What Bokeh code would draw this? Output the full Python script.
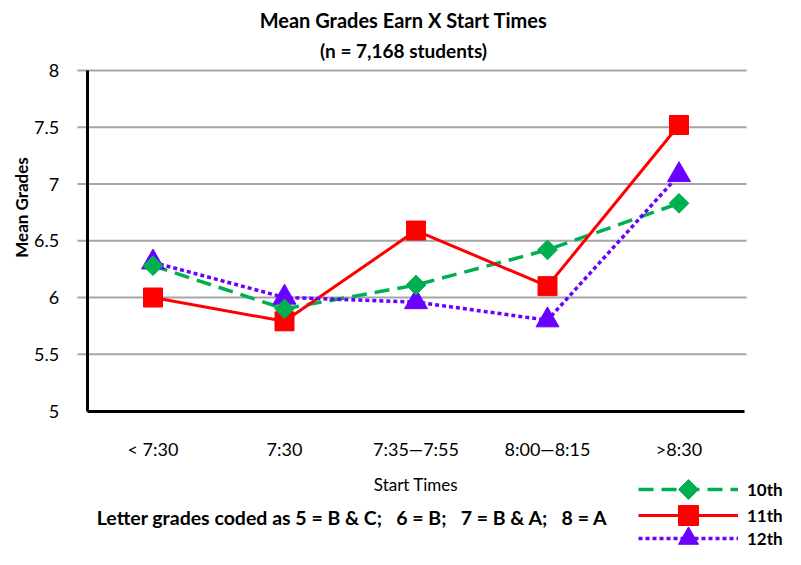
import math
from bokeh.plotting import figure
from bokeh.models import (Range1d, FixedTicker, NumeralTickFormatter,
                          Label, Legend, LegendItem)
from bokeh.embed import file_html
from bokeh.resources import INLINE

# ---- data ----
start_times = ["< 7:30", "7:30", "7:35\u20147:55", "8:00\u20148:15", ">8:30"]
grade10 = [6.28, 5.90, 6.11, 6.42, 6.83]
grade11 = [6.00, 5.79, 6.59, 6.10, 7.52]
grade12 = [6.31, 6.00, 5.96, 5.80, 7.08]
series_names = ["10th", "11th", "12th"]
y_ticks = [5, 5.5, 6, 6.5, 7, 7.5, 8]
title_lines = ["Mean Grades Earn X Start Times", "(n = 7,168 students)"]
x_title = "Start Times"
y_title = "Mean Grades"
note = "Letter grades coded as 5 = B & C;\u00a0\u00a0 6 = B;\u00a0\u00a0 7 = B & A;\u00a0\u00a0 8 = A"

x_idx = list(range(len(start_times)))

# ---- layout geometry (pixels on the canvas) ----
W, H = 785, 549
X0, DX = 152.5, 131.5          # pixel of first category, pixels per category
Y_TOP_VAL, Y_TOP_PX = 8.0, 70.0
PPU = 113.5                    # pixels per grade unit


def px2x(px):
    return (px - X0) / DX


def py2y(py):
    return Y_TOP_VAL - (py - Y_TOP_PX) / PPU


FONT = "Lato"
GREEN, RED, PURPLE = "#00b050", "#ff0000", "#6a00ff"
GRID = "#a6a6a6"

p = figure(width=W, height=H,
           x_range=Range1d(px2x(0), px2x(W)), y_range=Range1d(py2y(H), py2y(0)),
           output_backend="svg", toolbar_location=None,
           min_border_left=0, min_border_right=0,
           min_border_top=0, min_border_bottom=0)
p.title.visible = False
p.outline_line_color = None
p.background_fill_color = "white"
p.border_fill_color = "white"
p.xgrid.visible = False
p.ygrid.visible = False

# horizontal grid lines (gray), from the y tick values
grid_y = [t for t in y_ticks if t > min(y_ticks)]
p.segment(x0=[px2x(77)] * len(grid_y), y0=grid_y,
          x1=[px2x(746)] * len(grid_y), y1=grid_y,
          line_color=GRID, line_width=2)

# y axis
ya = p.yaxis[0]
ya.fixed_location = -0.5
ya.bounds = (min(y_ticks), max(y_ticks))
ya.ticker = FixedTicker(ticks=y_ticks)
ya.formatter = NumeralTickFormatter(format="0.[0]")
ya.axis_line_color = "black"
ya.axis_line_width = 3
ya.major_tick_in = 0
ya.major_tick_out = 10
ya.major_tick_line_color = None
ya.minor_tick_line_color = None
ya.major_label_standoff = 18
ya.major_label_text_align = "center"
ya.major_label_text_font = FONT
ya.major_label_text_font_size = "18px"
ya.major_label_text_color = "black"

# y axis title, placed where the reference shows it
p.add_layout(Label(x=px2x(21), y=py2y(207), text=y_title, angle=math.pi / 2,
                   text_align="center", text_baseline="middle", text_font=FONT,
                   text_font_size="17px", text_font_style="bold", text_color="black"))

# x axis
xa = p.xaxis[0]
xa.fixed_location = min(y_ticks)
xa.bounds = (-0.5, len(start_times) - 0.5)
xa.ticker = FixedTicker(ticks=x_idx)
xa.major_label_overrides = {i: s for i, s in zip(x_idx, start_times)}
xa.axis_line_color = "black"
xa.axis_line_width = 3
xa.major_tick_line_color = None
xa.minor_tick_line_color = None
xa.major_tick_in = 0
xa.major_tick_out = 0
xa.major_label_standoff = 27
xa.major_label_text_font = FONT
xa.major_label_text_font_size = "18px"
xa.major_label_text_color = "black"
xa.axis_label = x_title
xa.axis_label_text_font = FONT
xa.axis_label_text_font_size = "17px"
xa.axis_label_text_font_style = "normal"
xa.axis_label_text_color = "black"
xa.axis_label_standoff = 10

# series
l10 = p.line(x_idx, grade10, line_color=GREEN, line_width=3.5, line_dash="15 8")
l11 = p.line(x_idx, grade11, line_color=RED, line_width=3)
l12 = p.line(x_idx, grade12, line_color=PURPLE, line_width=3.5, line_dash="4 3")
s12 = p.scatter(x_idx, grade12, marker="triangle", size=23,
                fill_color=PURPLE, line_color=PURPLE)
s11 = p.scatter(x_idx, grade11, marker="square", size=19,
                fill_color=RED, line_color=RED)
s10 = p.scatter(x_idx, grade10, marker="square", size=14, angle=math.pi / 4,
                fill_color=GREEN, line_color=GREEN)

# titles and note
for text, cy, fs in zip(title_lines, [19, 50], ["20px", "19px"]):
    p.add_layout(Label(x=px2x(403), y=py2y(cy), text=text,
                       text_align="center", text_baseline="middle", text_font=FONT,
                       text_font_size=fs, text_font_style="bold", text_color="black"))
p.add_layout(Label(x=px2x(352), y=py2y(517), text=note,
                   text_align="center", text_baseline="middle", text_font=FONT,
                   text_font_size="19.5px", text_font_style="bold", text_color="black"))

# legends, one per row (location = bottom-left corner, pixels from frame bottom-left)
GH = 50
LX = 638
rows = [([l10], 489), ([l11, s11], 515), ([l12, s12], 538)]
for name, (rends, cy) in zip(series_names, rows):
    lg = Legend(items=[LegendItem(label=name, renderers=rends)],
                location=(LX, H - (cy + GH / 2)), glyph_width=100, glyph_height=GH,
                padding=0, margin=0, spacing=0, border_line_color=None,
                background_fill_alpha=0, label_standoff=9,
                label_text_font=FONT, label_text_font_size="17px",
                label_text_font_style="bold", label_text_color="black")
    p.add_layout(lg)

# diamond symbol of the 10th legend row (a turned square, as in the plot)
p.scatter(x=[px2x(LX + 50)], y=[py2y(rows[0][1])], marker="square", size=14,
          angle=math.pi / 4, fill_color=GREEN, line_color=GREEN, level="overlay")

open("out.html", "w").write(file_html(p, INLINE))
